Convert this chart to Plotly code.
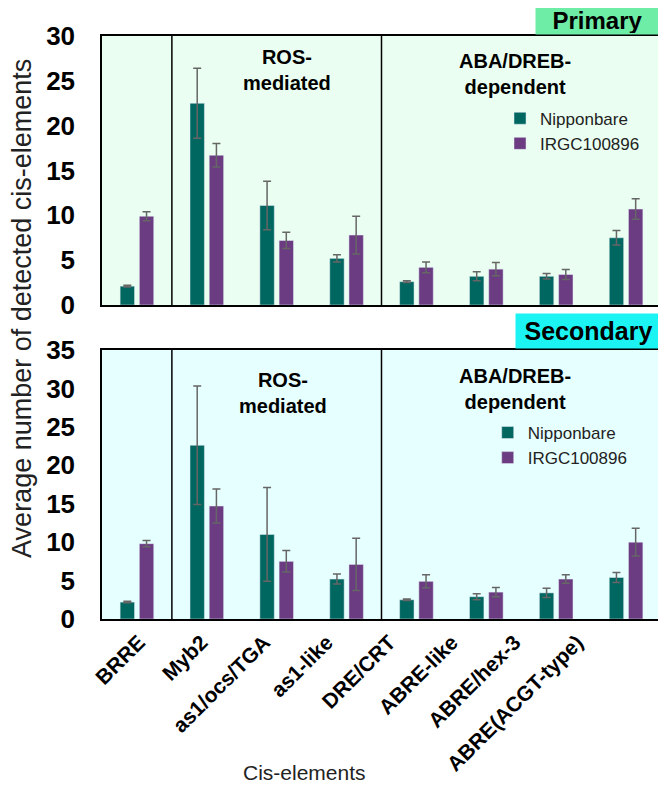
import plotly.graph_objects as go
from plotly.subplots import make_subplots

categories = ["BRRE", "Myb2", "as1/ocs/TGA", "as1-like", "DRE/CRT",
              "ABRE-like", "ABRE/hex-3", "ABRE(ACGT-type)"]

# Primary
prim_nip = [2.1, 22.5, 11.1, 5.2, 2.6, 3.2, 3.2, 7.5]
prim_nip_err = [0.1, 3.9, 2.7, 0.4, 0.1, 0.5, 0.3, 0.8]
prim_irgc = [9.9, 16.7, 7.2, 7.8, 4.2, 4.0, 3.4, 10.7]
prim_irgc_err = [0.5, 1.3, 0.9, 2.1, 0.6, 0.75, 0.55, 1.15]

# Secondary
sec_nip = [2.2, 22.6, 11.0, 5.2, 2.5, 2.9, 3.4, 5.4]
sec_nip_err = [0.1, 7.7, 6.1, 0.65, 0.1, 0.4, 0.6, 0.65]
sec_irgc = [9.8, 14.7, 7.5, 7.1, 4.9, 3.5, 5.2, 10.0]
sec_irgc_err = [0.4, 2.2, 1.4, 3.4, 0.85, 0.6, 0.55, 1.8]

TEAL = "#006660"
PURPLE = "#6B3C82"
ERR = "#666666"
FONT = "Liberation Sans, Arial, sans-serif"

fig = make_subplots(rows=2, cols=1, shared_xaxes=True)

def add_pair(row, nip, nip_e, irgc, irgc_e, legend):
    fig.add_trace(go.Bar(x=categories, y=nip, name="Nipponbare", marker_color=TEAL,
                         error_y=dict(type="data", array=nip_e, color=ERR, thickness=1.5, width=4),
                         legend=legend), row=row, col=1)
    fig.add_trace(go.Bar(x=categories, y=irgc, name="IRGC100896", marker_color=PURPLE,
                         error_y=dict(type="data", array=irgc_e, color=ERR, thickness=1.5, width=4),
                         legend=legend), row=row, col=1)

add_pair(1, prim_nip, prim_nip_err, prim_irgc, prim_irgc_err, "legend")
add_pair(2, sec_nip, sec_nip_err, sec_irgc, sec_irgc_err, "legend2")

# empty helper trace so the label axis (x3) is drawn
fig.add_trace(go.Scatter(x=[None], y=[None], xaxis="x3", yaxis="y2", showlegend=False,
                         hoverinfo="skip", mode="markers"))

legend_style = dict(font=dict(family=FONT, size=17, color="#222"), bgcolor="rgba(0,0,0,0)",
                    xanchor="left", yanchor="top", itemclick=False, tracegroupgap=0)

fig.update_layout(
    width=658, height=787,
    margin=dict(l=94, r=5, t=28, b=176),
    paper_bgcolor="white", plot_bgcolor="white",
    barmode="group", bargap=0.45, bargroupgap=0.25,
    font=dict(family=FONT, color="black"),
    legend=dict(x=0.712, y=0.889, **legend_style),
    legend2=dict(x=0.69, y=0.350, **legend_style),
    xaxis3=dict(overlaying="x2", anchor="y2", side="bottom", range=[-0.59, 8.34],
                tickmode="array", tickvals=list(range(len(categories))), ticktext=categories,
                tickangle=-45, showgrid=False, zeroline=False, showline=False, ticks="",
                automargin=False, ticklabelstandoff=6,
                tickfont=dict(family=FONT, size=21, color="black", weight="bold")),
)

fig.update_yaxes(domain=[0.5386, 1.0], range=[0, 30], dtick=5, row=1, col=1)
fig.update_yaxes(domain=[0.0, 0.4614], range=[0, 35], dtick=5, row=2, col=1)
fig.update_yaxes(showgrid=False, zeroline=False, showline=True, linecolor="black", linewidth=1.5,
                 mirror=True, ticks="", ticklabelstandoff=20, automargin=False,
                 tickfont=dict(family=FONT, size=26, color="black", weight="bold"))
fig.update_xaxes(showgrid=False, zeroline=False, showline=True, linecolor="black", linewidth=1.5,
                 mirror=True, ticks="", showticklabels=False, automargin=False, row=1, col=1)
fig.update_xaxes(showgrid=False, zeroline=False, showline=True, linecolor="black", linewidth=1.5,
                 mirror=True, ticks="", showticklabels=False, automargin=False, row=2, col=1)

# panel backgrounds
for xr, yr, col in [("x", "y", "#EAFFF1"), ("x2", "y2", "#E6FFFF")]:
    fig.add_shape(type="rect", xref=xr + " domain", yref=yr + " domain", x0=0, x1=1, y0=0, y1=1,
                  fillcolor=col, line_width=0, layer="below")
    for xv in [0.5, 3.5]:
        fig.add_shape(type="line", xref=xr, yref=yr + " domain", x0=xv, x1=xv, y0=0, y1=1,
                      line=dict(color="black", width=1.5))

ann_font = dict(family=FONT, size=20, color="black", weight="bold")
for x, y, t in [(0.331, 0.942, "ROS-<br>mediated"), (0.739, 0.935, "ABA/DREB-<br>dependent"),
                (0.324, 0.387, "ROS-<br>mediated"), (0.739, 0.394, "ABA/DREB-<br>dependent")]:
    fig.add_annotation(x=x, y=y, xref="paper", yref="paper", text=t, showarrow=False,
                       xanchor="center", yanchor="middle", font=ann_font, align="center")

fig.add_annotation(x=0.886, y=1.0266, xref="paper", yref="paper", text="Primary", showarrow=False,
                   xanchor="center", yanchor="middle",
                   font=dict(family=FONT, size=24, color="black", weight="bold"),
                   bgcolor="#6EEDA6", width=121, height=25)
fig.add_annotation(x=0.870, y=0.494, xref="paper", yref="paper", text="Secondary", showarrow=False,
                   xanchor="center", yanchor="middle",
                   font=dict(family=FONT, size=25, color="black", weight="bold"),
                   bgcolor="#1CF4F4", width=143, height=32)

fig.add_annotation(x=-0.143, y=0.532, xref="paper", yref="paper",
                   text="Average number of detected cis-elements", textangle=-90, showarrow=False,
                   xanchor="center", yanchor="middle",
                   font=dict(family=FONT, size=27, color="#222"))
fig.add_annotation(x=0.363, y=-0.264, xref="paper", yref="paper", text="Cis-elements",
                   showarrow=False, xanchor="center", yanchor="middle",
                   font=dict(family=FONT, size=21, color="#222"))

fig.write_html("out.html")
